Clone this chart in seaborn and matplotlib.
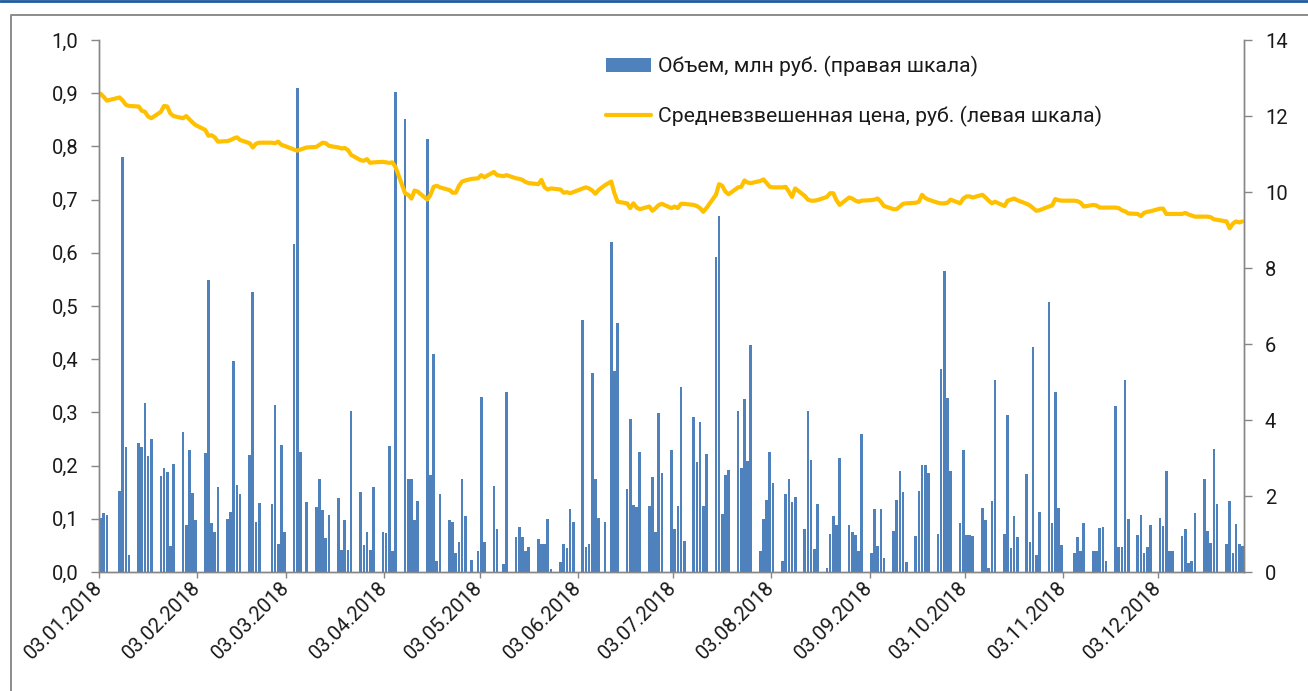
import numpy as np
import pandas as pd
import matplotlib
matplotlib.use("Agg")
import matplotlib.pyplot as plt
import matplotlib.transforms as mtransforms
from matplotlib.lines import Line2D
from matplotlib.patches import Patch
from matplotlib.ticker import FuncFormatter, MultipleLocator
import seaborn as sns

# Exchange calendar for 2018: weekday holidays and working Saturdays
non_trading_days = ["2018-01-08", "2018-02-23", "2018-03-08", "2018-05-01",
                    "2018-05-09", "2018-06-12", "2018-11-05"]
working_saturdays = ["2018-04-28", "2018-06-09", "2018-12-29"]

# Daily trading volume, mln rub (right axis)
volume_mln = [
    1.41, 1.54, 1.50,
    2.13, 10.93, 3.30, 0.45,
    3.39, 3.30, 4.46, 3.04, 3.50,
    2.53, 2.75, 2.64, 0.69, 2.84,
    3.69, 1.25, 3.21, 2.07, 1.37,
    3.12, 7.68, 1.28, 1.04, 2.25,
    1.39, 1.57, 5.55, 2.29, 2.04,
    3.08, 7.37, 1.32, 1.81,
    1.78, 4.39, 0.75, 3.35, 1.06,
    8.62, 12.75, 3.17, 1.85,
    1.72, 2.46, 1.63, 0.89, 1.50,
    1.96, 0.58, 1.37, 0.58, 4.25,
    2.10, 0.71, 1.06, 0.58, 2.23,
    1.04, 1.02, 3.32, 0.54, 12.62,
    11.92, 2.45, 2.46, 1.37, 1.87,
    11.40, 2.55, 5.74, 0.29, 2.04,
    1.37, 1.31, 0.49, 0.80, 2.44, 1.48,
    0.32, 0.54, 4.60, 0.80,
    2.26, 1.12, 0.20, 4.73,
    0.91, 1.18, 0.91, 0.56, 0.65,
    0.86, 0.75, 0.75, 1.39, 0.08,
    0.27, 0.74, 0.62, 1.65, 1.32,
    6.63, 0.65, 0.74, 5.23, 2.44, 1.41,
    1.32, 8.68, 5.29, 6.56,
    2.18, 4.02, 1.76, 1.70, 3.15,
    1.74, 2.51, 1.06, 4.19, 2.61,
    3.21, 1.12, 1.74, 4.88, 0.82,
    4.07, 2.89, 3.96, 1.74, 3.10,
    8.30, 9.37, 1.53, 2.55, 2.68,
    4.25, 2.75, 4.54, 2.92, 5.97,
    0.56, 1.39, 1.89, 3.15, 2.33,
    0.30, 2.04, 2.44, 1.85, 1.98,
    1.12, 4.25, 2.95, 0.60, 1.78,
    0.10, 0.99, 1.48, 1.24, 2.99,
    1.24, 1.06, 0.97, 0.56, 3.62,
    0.51, 1.66, 0.68, 1.66, 0.36,
    1.09, 1.89, 2.67, 2.10, 0.27,
    0.95, 2.13, 2.82, 2.82, 2.60,
    1.00, 5.34, 7.93, 4.57, 2.67,
    1.30, 3.21, 0.97, 0.97, 0.95,
    1.68, 1.37, 0.11, 1.87, 5.05,
    1.00, 4.13, 0.62, 1.47, 0.91,
    2.58, 0.80, 5.91, 0.45, 1.57,
    7.10, 1.28, 4.75, 1.68, 0.71,
    0.51, 0.91, 0.56, 1.30,
    0.54, 0.56, 1.15, 1.18, 0.29,
    4.37, 0.67, 0.65, 5.05, 1.39,
    0.97, 1.50, 0.51, 0.65, 1.24,
    1.41, 1.21, 2.67, 0.54, 0.54,
    0.95, 1.12, 0.25, 0.30, 1.54,
    2.46, 1.09, 0.77, 3.23, 1.78,
    0.74, 1.87, 0.51, 1.26, 0.74, 0.69,
]

# Volume-weighted average price, rub (left axis)
price_rub = [
    0.899, 0.893, 0.886,
    0.892, 0.886, 0.878, 0.876,
    0.875, 0.867, 0.865, 0.856, 0.853,
    0.865, 0.876, 0.875, 0.862, 0.857,
    0.853, 0.857, 0.851, 0.845, 0.840,
    0.831, 0.820, 0.821, 0.817, 0.809,
    0.810, 0.812, 0.815, 0.817, 0.812,
    0.806, 0.798, 0.805, 0.807,
    0.807, 0.806, 0.809, 0.803, 0.801,
    0.794, 0.792, 0.794, 0.798,
    0.799, 0.803, 0.807, 0.806, 0.801,
    0.798, 0.796, 0.797, 0.793, 0.784,
    0.774, 0.773, 0.776, 0.769, 0.770,
    0.771, 0.770, 0.769, 0.770, 0.761,
    0.712, 0.709, 0.702, 0.717, 0.715,
    0.700, 0.709, 0.724, 0.726, 0.723,
    0.718, 0.713, 0.713, 0.726, 0.734, 0.736,
    0.739, 0.740, 0.746, 0.742,
    0.752, 0.746, 0.744, 0.746,
    0.740, 0.739, 0.737, 0.733, 0.731,
    0.729, 0.737, 0.723, 0.719, 0.721,
    0.719, 0.713, 0.714, 0.712, 0.714,
    0.721, 0.723, 0.721, 0.717, 0.711, 0.718,
    0.727, 0.734, 0.712, 0.696,
    0.693, 0.684, 0.693, 0.685, 0.682,
    0.687, 0.679, 0.684, 0.690, 0.692,
    0.684, 0.687, 0.684, 0.692, 0.692,
    0.690, 0.688, 0.684, 0.677, 0.684,
    0.709, 0.729, 0.726, 0.715, 0.710,
    0.723, 0.724, 0.736, 0.732, 0.731,
    0.735, 0.738, 0.731, 0.724, 0.723,
    0.723, 0.724, 0.715, 0.705, 0.721,
    0.707, 0.700, 0.698, 0.698, 0.699,
    0.705, 0.712, 0.712, 0.699, 0.690,
    0.704, 0.702, 0.698, 0.696, 0.698,
    0.699, 0.700, 0.702, 0.696, 0.688,
    0.682, 0.682, 0.687, 0.692, 0.693,
    0.694, 0.696, 0.709, 0.703, 0.700,
    0.694, 0.693, 0.693, 0.694, 0.700,
    0.693, 0.702, 0.706, 0.706, 0.704,
    0.709, 0.704, 0.698, 0.693, 0.696,
    0.688, 0.698, 0.700, 0.702, 0.699,
    0.692, 0.689, 0.684, 0.679, 0.680,
    0.687, 0.689, 0.701, 0.699, 0.698,
    0.698, 0.697, 0.694, 0.687,
    0.690, 0.689, 0.685, 0.685, 0.685,
    0.685, 0.684, 0.680, 0.678, 0.674,
    0.673, 0.669, 0.675, 0.677, 0.678,
    0.683, 0.683, 0.673, 0.673, 0.673,
    0.673, 0.675, 0.672, 0.670, 0.668,
    0.668, 0.668, 0.667, 0.663, 0.662,
    0.659, 0.646, 0.655, 0.659, 0.657, 0.659,
]

tick_dates = ["2018-01-03", "2018-02-03", "2018-03-03", "2018-04-03",
              "2018-05-03", "2018-06-03", "2018-07-03", "2018-08-03",
              "2018-09-03", "2018-10-03", "2018-11-03", "2018-12-03"]

label_volume = "Объем, млн руб. (правая шкала)"
label_price = "Средневзвешенная цена, руб. (левая шкала)"

BAR_COLOR = "#4F81BD"
LINE_COLOR = "#FFC000"
AXIS_COLOR = "#868686"
TEXT_COLOR = "#1A1A1A"
TICK_FS = 14.5
LEGEND_FS = 15.2

sns.set_theme(style="white")
plt.rcParams["font.family"] = ["Roboto", "DejaVu Sans"]

# Trading days of the year
origin = pd.Timestamp("2018-01-03")
days = pd.bdate_range("2018-01-03", "2018-12-29")
days = days.difference(pd.to_datetime(non_trading_days)).union(pd.to_datetime(working_saturdays))
df = pd.DataFrame({"date": days, "volume": volume_mln, "price": price_rub})
# each day occupies one slot on a continuous date axis; marks sit at slot centres
df["pos"] = (df["date"] - origin).dt.days + 0.5
end_pos = (pd.Timestamp("2018-12-30") - origin).days

fig = plt.figure(figsize=(13.08, 6.91), dpi=100)
ax = fig.add_axes([99 / 1308, 1 - 572 / 691, (1244 - 99) / 1308, (572 - 40) / 691])
ax2 = ax.twinx()

# volume bars on the secondary (right) axis
ax2.bar(df["pos"], df["volume"], width=0.84, color=BAR_COLOR, linewidth=0)

# price line on the primary (left) axis, drawn above the bars
sns.lineplot(data=df, x="pos", y="price", ax=ax, color=LINE_COLOR,
             linewidth=3.0, solid_joinstyle="round", solid_capstyle="round")
ax.set_zorder(ax2.get_zorder() + 1)
ax.patch.set_visible(False)

ax.set_xlim(0, end_pos)
ax.set_ylim(0, 1.0)
ax2.set_ylim(0, 14)
ax.set_xlabel("")
ax.set_ylabel("")
ax2.set_ylabel("")

ax.yaxis.set_major_locator(MultipleLocator(0.1))
ax.yaxis.set_major_formatter(FuncFormatter(lambda v, p: f"{v:.1f}".replace(".", ",")))
ax2.yaxis.set_major_locator(MultipleLocator(2))
ax2.yaxis.set_major_formatter(FuncFormatter(lambda v, p: f"{v:.0f}"))

tick_ts = pd.to_datetime(tick_dates)
ax.set_xticks([(t - origin).days for t in tick_ts])
ax.set_xticklabels([t.strftime("%d.%m.%Y") for t in tick_ts], rotation=45,
                   ha="right", va="center", rotation_mode="anchor")
# nudge the rotated date labels slightly right so their ends sit at the ticks
shift = mtransforms.ScaledTranslation(3 / 100, 0, fig.dpi_scale_trans)
for lbl in ax.get_xticklabels():
    lbl.set_transform(lbl.get_transform() + shift)

for a in (ax, ax2):
    a.grid(False)
    a.spines["top"].set_visible(False)
    for s in ("left", "right", "bottom"):
        a.spines[s].set_color(AXIS_COLOR)
        a.spines[s].set_linewidth(1.0)

ax.tick_params(axis="y", which="major", left=True, direction="out", length=6,
               width=1, color=AXIS_COLOR, labelsize=TICK_FS, labelcolor=TEXT_COLOR, pad=9)
ax.tick_params(axis="x", which="major", bottom=True, direction="out", length=4,
               width=1, color=AXIS_COLOR, labelsize=TICK_FS, labelcolor=TEXT_COLOR, pad=5)
ax2.tick_params(axis="y", which="major", right=True, direction="out", length=6,
                width=1, color=AXIS_COLOR, labelsize=TICK_FS, labelcolor=TEXT_COLOR, pad=9)

handles = [Patch(facecolor=BAR_COLOR, edgecolor="none"),
           Line2D([], [], color=LINE_COLOR, linewidth=3.0)]
ax.legend(handles, [label_volume, label_price], loc="upper left",
          bbox_to_anchor=(606 / 1308, 1 - 56 / 691), bbox_transform=fig.transFigure,
          frameon=False, borderpad=0, borderaxespad=0, handlelength=2.15,
          handleheight=0.6, handletextpad=0.33, labelspacing=1.35,
          fontsize=LEGEND_FS, labelcolor=TEXT_COLOR)

# page rule and chart-area border
fig.add_artist(Line2D([0, 1], [1 - 1.3 / 691] * 2, transform=fig.transFigure,
                      color="#1F5C9E", linewidth=2.0))
fig.add_artist(Line2D([10.5 / 1308, 10.5 / 1308, 1], [0, 1 - 14.5 / 691, 1 - 14.5 / 691],
                      transform=fig.transFigure, color="#8C8C8C", linewidth=1.4))

fig.savefig("out.png", dpi=100, facecolor="white")
